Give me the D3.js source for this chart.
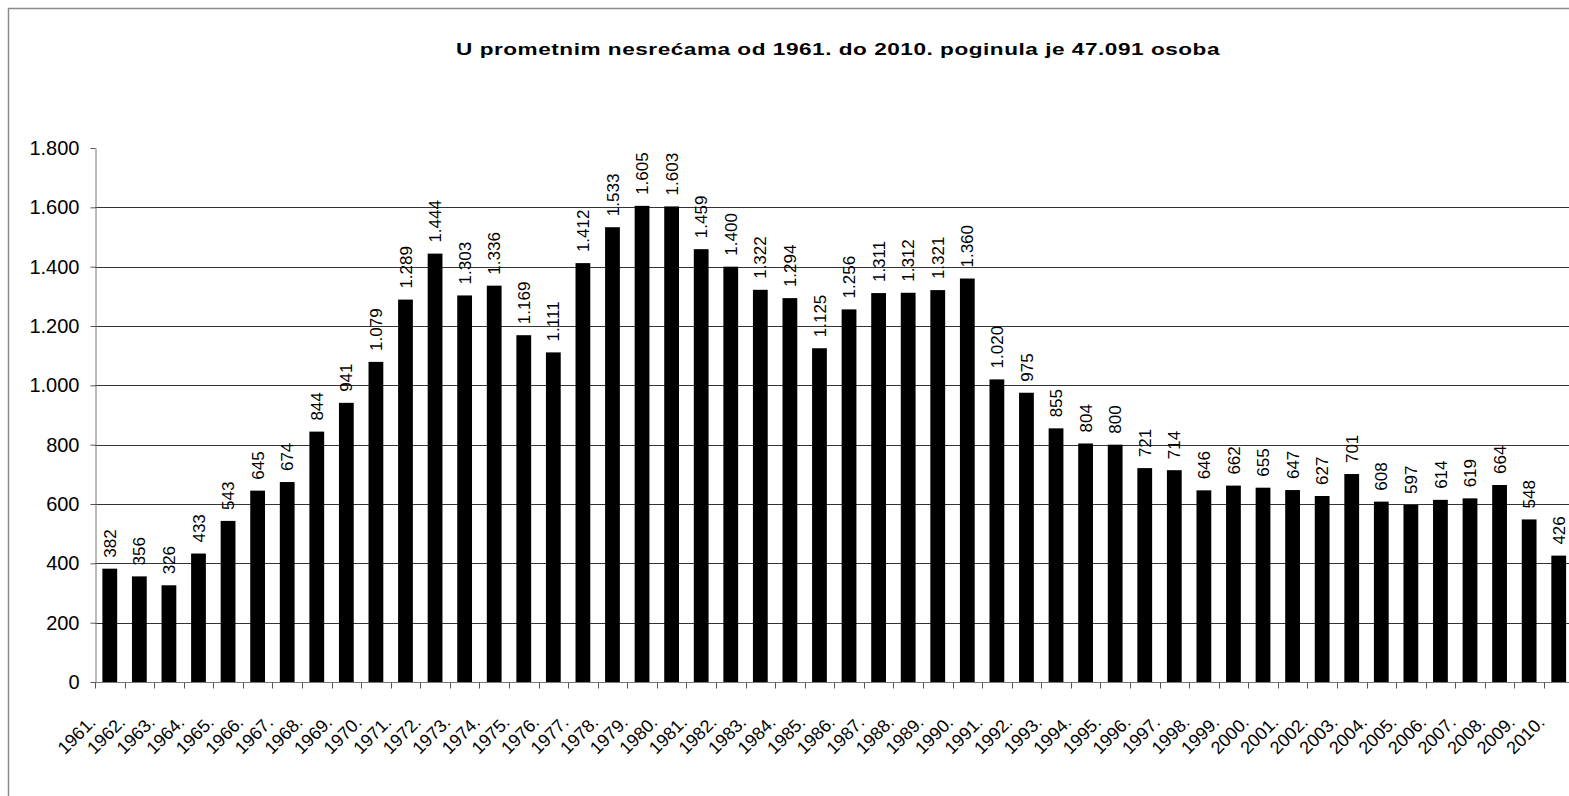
<!DOCTYPE html>
<html>
<head>
<meta charset="utf-8">
<script src="https://cdn.jsdelivr.net/npm/d3@7"></script>
<style>
    body { margin: 0; background: #fff; }
    svg { display: block; font-family: "Liberation Sans", Arial, sans-serif; }
</style>
</head>
<body>
<div id="container"><svg></svg></div>
<script>
let width = 1569;
let height = 796;

let title = 'U prometnim nesrećama od 1961. do 2010. poginula je 47.091 osoba';

let years = ['1961.', '1962.', '1963.', '1964.', '1965.', '1966.', '1967.', '1968.', '1969.', '1970.',
    '1971.', '1972.', '1973.', '1974.', '1975.', '1976.', '1977.', '1978.', '1979.', '1980.',
    '1981.', '1982.', '1983.', '1984.', '1985.', '1986.', '1987.', '1988.', '1989.', '1990.',
    '1991.', '1992.', '1993.', '1994.', '1995.', '1996.', '1997.', '1998.', '1999.', '2000.',
    '2001.', '2002.', '2003.', '2004.', '2005.', '2006.', '2007.', '2008.', '2009.', '2010.'];

let deaths = [382, 356, 326, 433, 543, 645, 674, 844, 941, 1079,
    1289, 1444, 1303, 1336, 1169, 1111, 1412, 1533, 1605, 1603,
    1459, 1400, 1322, 1294, 1125, 1256, 1311, 1312, 1321, 1360,
    1020, 975, 855, 804, 800, 721, 714, 646, 662, 655,
    647, 627, 701, 608, 597, 614, 619, 664, 548, 426];

let yTicks = [0, 200, 400, 600, 800, 1000, 1200, 1400, 1600, 1800];
let yMax = 1800;

// hrvatski format brojeva: 1.800
let hr = d3.formatLocale({decimal: ',', thousands: '.', grouping: [3], currency: ['', ' kn']});
let fmt = hr.format(',d');

let data = years.map((y, i) => ({year: y, value: deaths[i]}));

let padding = {left: 95, top: 148, bottom: 114};
let step = 29.57;

let svg = d3.select('#container').select('svg')
    .attr('width', width)
    .attr('height', height);

// okvir
svg.append('rect')
    .attr('x', 8.5).attr('y', 8.5)
    .attr('width', 2000).attr('height', 2000)
    .attr('fill', 'none')
    .attr('stroke', '#8c8c8c')
    .attr('stroke-width', 1.5);

// naslov (razvučen kao u Excelu)
svg.append('text')
    .attr('x', 838)
    .attr('y', 55)
    .attr('text-anchor', 'middle')
    .attr('font-weight', 'bold')
    .attr('font-size', '17px')
    .attr('letter-spacing', '0.4px')
    .attr('textLength', 764)
    .attr('lengthAdjust', 'spacingAndGlyphs')
    .text(title);

let x = d3.scaleBand()
    .domain(years)
    .range([padding.left, padding.left + step * years.length])
    .paddingInner(0.5)
    .paddingOuter(0.25);

let y = d3.scaleLinear()
    .domain([0, yMax])
    .range([height - padding.bottom, padding.top]);

// grid
svg.append('g')
    .selectAll('line')
    .data(yTicks.filter(d => d > 0 && d < yMax))
    .enter().append('line')
    .attr('x1', padding.left).attr('x2', width)
    .attr('y1', d => Math.round(y(d)) + 0.5)
    .attr('y2', d => Math.round(y(d)) + 0.5)
    .attr('stroke', '#333')
    .attr('stroke-width', 1);

// y os
let axis_y = d3.axisLeft(y)
    .tickValues(yTicks)
    .tickSizeInner(5)
    .tickSizeOuter(0)
    .tickPadding(11)
    .tickFormat(d => fmt(d));

let gy = svg.append('g')
    .attr('transform', `translate(${padding.left + 0.5}, 0)`)
    .call(axis_y);
gy.select('.domain').attr('stroke', '#777');
gy.selectAll('.tick line').attr('stroke', '#555');
gy.selectAll('text')
    .attr('font-size', '20px')
    .attr('font-family', '"Liberation Sans", Arial, sans-serif')
    .attr('fill', '#000');

// stupci
svg.append('g')
    .selectAll('rect')
    .data(data)
    .enter().append('rect')
    .attr('x', d => x(d.year))
    .attr('y', d => y(d.value))
    .attr('width', x.bandwidth())
    .attr('height', d => y(0) - y(d.value))
    .attr('fill', '#000');

// x os
let y0 = Math.round(y(0)) + 0.5;
svg.append('line')
    .attr('x1', padding.left).attr('x2', width)
    .attr('y1', y0).attr('y2', y0)
    .attr('stroke', '#777');

let bounds = d3.range(years.length + 1).map(i => x(years[0]) - x.step() * 0.25 + i * x.step());
svg.append('g')
    .selectAll('line')
    .data(bounds)
    .enter().append('line')
    .attr('x1', d => Math.round(d) + 0.5).attr('x2', d => Math.round(d) + 0.5)
    .attr('y1', y0).attr('y2', y0 + 6)
    .attr('stroke', '#555');

// oznake godina
svg.append('g')
    .selectAll('text')
    .data(data)
    .enter().append('text')
    .attr('transform', d => `translate(${x(d.year) + x.bandwidth() / 2 - 13}, ${y0 + 41}) rotate(-45)`)
    .attr('text-anchor', 'end')
    .attr('font-size', '18px')
    .text(d => d.year);

// vrijednosti iznad stupaca
svg.append('g')
    .selectAll('text')
    .data(data)
    .enter().append('text')
    .attr('transform', d => `translate(${x(d.year) + x.bandwidth() / 2}, ${y(d.value) - 11}) rotate(-90)`)
    .attr('text-anchor', 'start')
    .attr('dy', '0.36em')
    .attr('font-size', '17px')
    .text(d => fmt(d.value));
</script>
</body>
</html>
